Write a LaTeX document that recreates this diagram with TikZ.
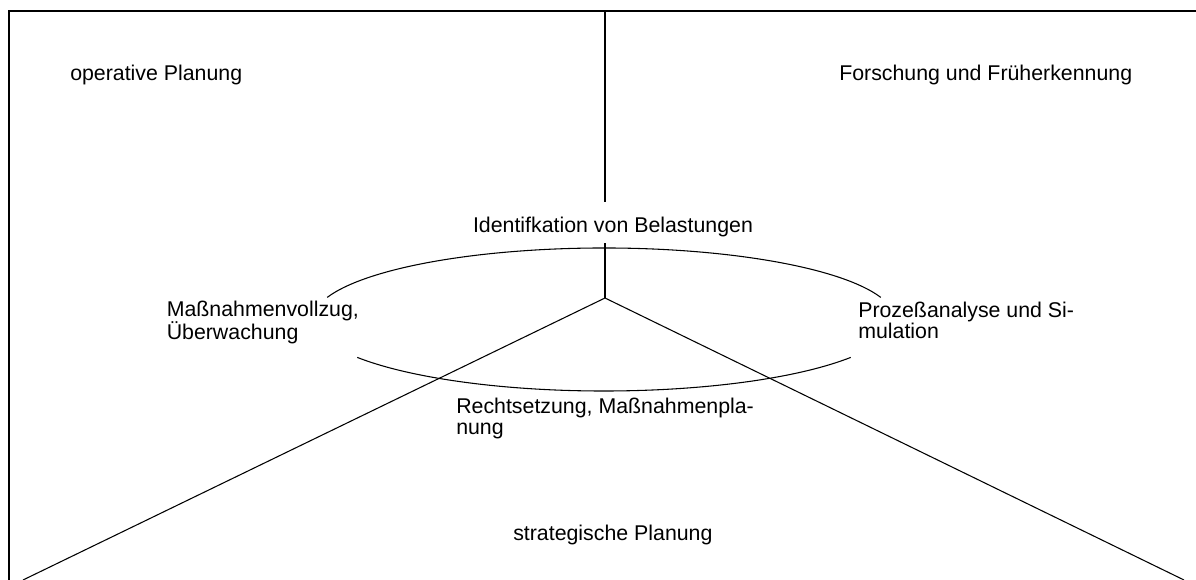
\documentclass[tikz,border=0pt]{standalone}
\usepackage{fontspec}
\setmainfont{Liberation Sans}
\usetikzlibrary{positioning}

\begin{document}
\begin{tikzpicture}[x=0.75pt,y=0.75pt,yscale=-1,xscale=1,
  txt/.style={anchor=base west,inner sep=0pt,font=\fontsize{16}{15.75}\selectfont},
  multi/.style={txt,align=left},
  frame/.style={line width=1.7pt},
  spoke/.style={line width=0.8pt}]
\useasboundingbox (0,0) rectangle (1196,580);

%Frame (top and left only)
\coordinate (tl) at (9,11);
\coordinate (tr) at (1196,11);
\coordinate (bl) at (9,580);
\draw[frame] (tr) -- (tl) -- (bl);

%Centre of the three sectors and the ring
\coordinate (centre) at (605,298);
\coordinate (top) at (605,11);
\coordinate (left) at (23,580);
\coordinate (right) at (1184,580);
\coordinate (ring) at (604,319.5);

% Text Nodes (multi-line nodes sit on the baseline of their last line)
\node[txt] (oper) at (70,80.5) {operative Planung};
\node[txt] (forsch) at (839,81) {Forschung und Früherkennung};
\node[txt,anchor=base,inner xsep=2pt,inner ysep=3.5pt,text height=19.75pt,text depth=4pt] (ident) at (613,233) {Identifkation von Belastungen};
\node[multi] (vollzug) at (166.5,340) {Maßnahmenvollzug,\\Überwachung};
\node[multi] (prozess) at (858,339) {Prozeßanalyse und Si-\\mulation};
\node[multi] (recht) at (456,435) {Rechtsetzung, Maßnahmenpla-\\nung};
\node[txt] (strat) at (513,541) {strategische Planung};

%Vertical line, broken by the top label
\draw[spoke] (top) -- (ident.north -| centre);
\draw[spoke] (ident.south -| centre) -- (centre);

%Diagonals
\draw[spoke] (left) -- (centre) -- (right);

%Ring, upper and lower arc
\draw[spoke] (ring) ++(-18:291 and 71.5) arc[start angle=-18,end angle=-162,x radius=291,y radius=71.5];
\draw[spoke] (ring) ++(32:291 and 71.5) arc[start angle=32,end angle=148,x radius=291,y radius=71.5];

\end{tikzpicture}
\end{document}
